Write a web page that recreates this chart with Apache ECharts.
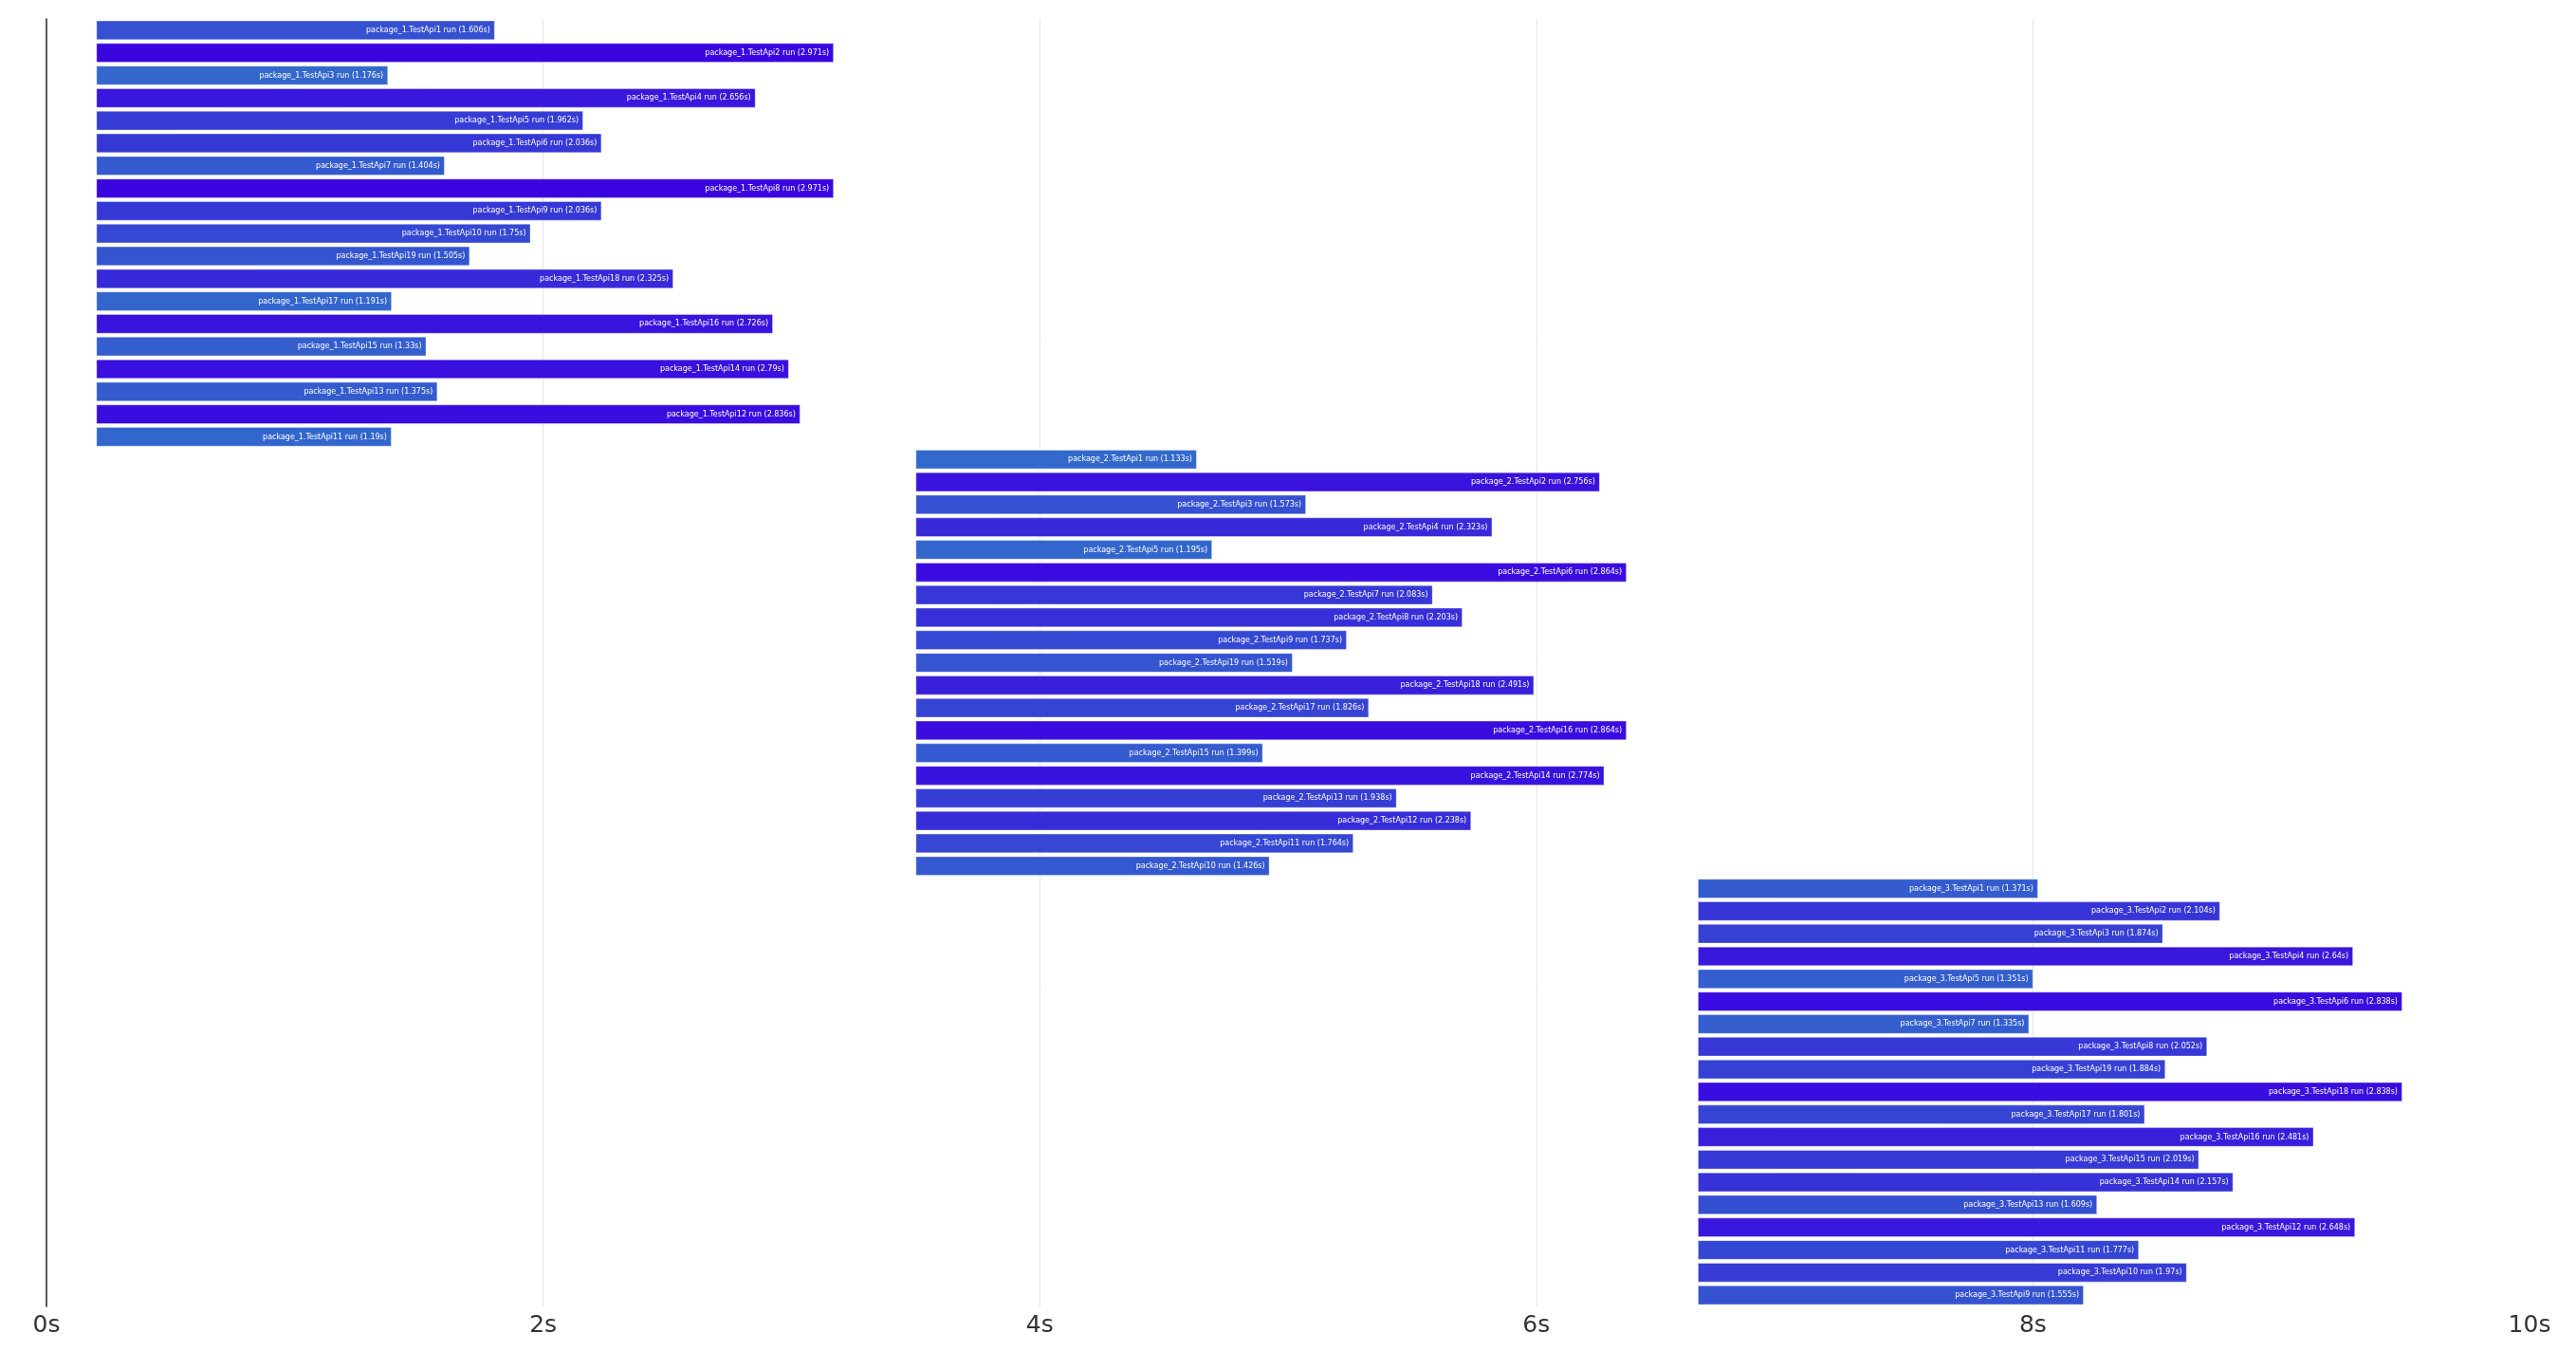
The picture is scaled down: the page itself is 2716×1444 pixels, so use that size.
<!DOCTYPE html>
<html>
<head>
<meta charset="utf-8">
<script src="https://cdn.jsdelivr.net/npm/echarts@6/dist/echarts.min.js"></script>
<style>
html,body{margin:0;padding:0;background:#fff;}
#chart{width:2716px;height:1444px;}
</style>
</head>
<body>
<div id="chart"></div>
<script>
const packages = ['package_1', 'package_2', 'package_3'];
const packageStarts = [0.2, 3.5, 6.65];
const tests1 = ['TestApi1','TestApi2','TestApi3','TestApi4','TestApi5','TestApi6','TestApi7','TestApi8','TestApi9','TestApi10','TestApi19','TestApi18','TestApi17','TestApi16','TestApi15','TestApi14','TestApi13','TestApi12','TestApi11'];
const durations1 = [1.606, 2.971, 1.176, 2.656, 1.962, 2.036, 1.404, 2.971, 2.036, 1.75, 1.505, 2.325, 1.191, 2.726, 1.33, 2.79, 1.375, 2.836, 1.19];
const tests2 = ['TestApi1','TestApi2','TestApi3','TestApi4','TestApi5','TestApi6','TestApi7','TestApi8','TestApi9','TestApi19','TestApi18','TestApi17','TestApi16','TestApi15','TestApi14','TestApi13','TestApi12','TestApi11','TestApi10'];
const durations2 = [1.133, 2.756, 1.573, 2.323, 1.195, 2.864, 2.083, 2.203, 1.737, 1.519, 2.491, 1.826, 2.864, 1.399, 2.774, 1.938, 2.238, 1.764, 1.426];
const tests3 = ['TestApi1','TestApi2','TestApi3','TestApi4','TestApi5','TestApi6','TestApi7','TestApi8','TestApi19','TestApi18','TestApi17','TestApi16','TestApi15','TestApi14','TestApi13','TestApi12','TestApi11','TestApi10','TestApi9'];
const durations3 = [1.371, 2.104, 1.874, 2.64, 1.351, 2.838, 1.335, 2.052, 1.884, 2.838, 1.801, 2.481, 2.019, 2.157, 1.609, 2.648, 1.777, 1.97, 1.555];
const xTicks = [0, 2, 4, 6, 8, 10];
const colorShort = [51, 105, 204];
const colorLong = [58, 6, 224];

const testLists = [tests1, tests2, tests3];
const durLists = [durations1, durations2, durations3];
const categories = [], starts = [], durs = [];
packages.forEach((p, i) => {
  testLists[i].forEach((t, j) => {
    categories.push(p + '.' + t);
    starts.push(packageStarts[i]);
    durs.push(durLists[i][j]);
  });
});
const minD = Math.min(...durs), maxD = Math.max(...durs);
function durColor(v) {
  const t = (v - minD) / (maxD - minD);
  const c = colorShort.map((a, k) => Math.round(a + (colorLong[k] - a) * t));
  return 'rgb(' + c.join(',') + ')';
}

const chart = echarts.init(document.getElementById('chart'));
chart.setOption({
  animation: false,
  backgroundColor: '#fff',
  grid: {left: 49, right: 49, top: 20, bottom: 67, containLabel: false},
  xAxis: {
    type: 'value', min: xTicks[0], max: xTicks[xTicks.length - 1], interval: 2,
    axisLine: {show: false}, axisTick: {show: false},
    axisLabel: {formatter: '{value}s', fontSize: 25, color: '#333', margin: 8, fontFamily: 'DejaVu Sans'},
    splitLine: {show: true, showMaxLine: false, showMinLine: false, lineStyle: {color: '#e6e6e6', width: 1}}
  },
  yAxis: {
    type: 'category', data: categories, inverse: true,
    axisLine: {show: true, lineStyle: {color: '#222', width: 1.5}},
    axisTick: {show: false}, axisLabel: {show: false}, splitLine: {show: false}
  },
  series: [
    {
      type: 'bar', stack: 'g', data: starts, barCategoryGap: '13%',
      itemStyle: {color: 'rgba(0,0,0,0)'}, silent: true
    },
    {
      type: 'bar', stack: 'g', data: durs, barCategoryGap: '13%',
      itemStyle: {
        color: p => durColor(p.value),
        borderColor: 'rgba(255,255,255,0.35)', borderWidth: 1
      },
      label: {
        show: true, position: 'insideRight', distance: 5,
        color: '#fff', fontSize: 8, fontFamily: 'DejaVu Sans',
        formatter: p => p.name + ' run (' + p.value + 's)'
      }
    }
  ]
});
</script>
</body>
</html>
